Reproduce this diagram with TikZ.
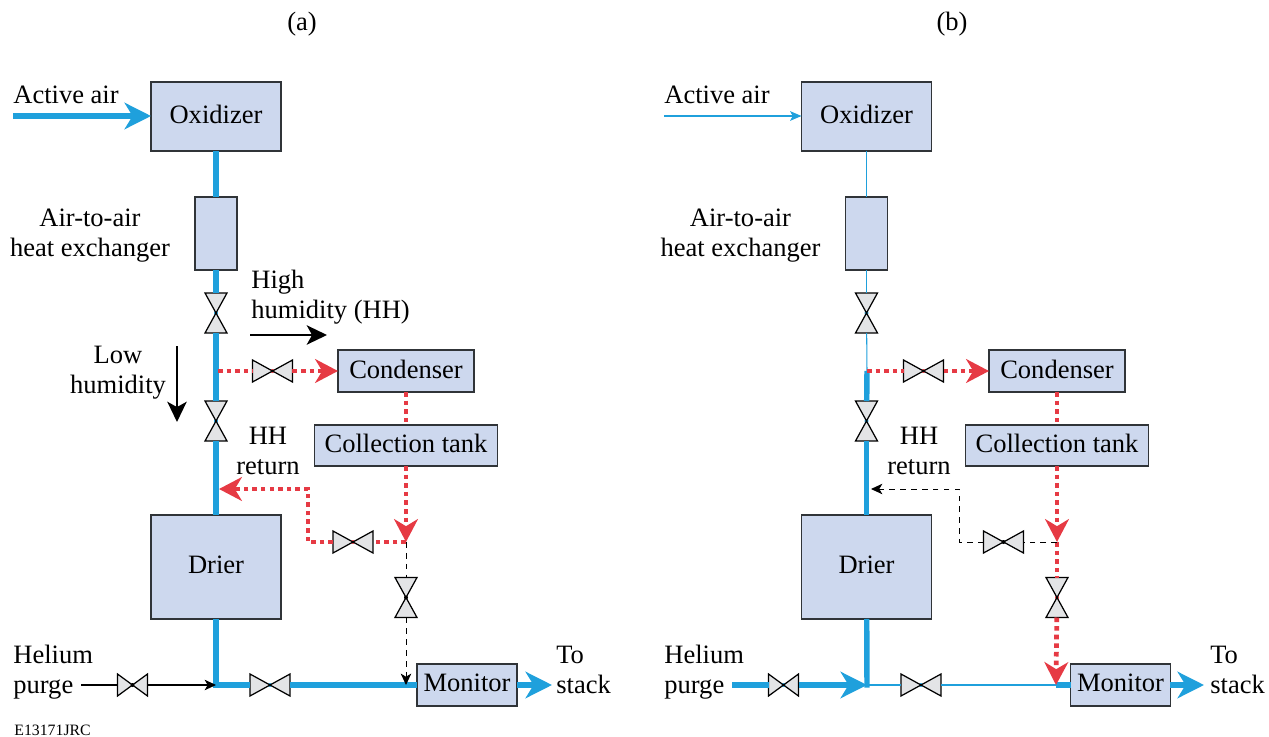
\documentclass[tikz,border=0pt]{standalone}
\usepackage{fontspec}
\setmainfont{Liberation Serif}
\usetikzlibrary{arrows.meta}
\definecolor{boxfill}{HTML}{CDD8EE}
\definecolor{boxline}{HTML}{303438}
\definecolor{valvefill}{HTML}{E3E4E6}
\definecolor{airblue}{HTML}{1FA0DC}
\definecolor{hhred}{HTML}{E63A44}
\tikzset{
  box/.style={draw=boxline,fill=boxfill,line width=0.8pt,inner sep=0pt,outer sep=0pt,text depth=2.2pt},
  valve/.style={inner sep=0pt,outer sep=0pt},
  label/.style={inner sep=0pt,align=center},
  leftlabel/.style={inner sep=0pt,align=left,anchor=west},
  thickair/.style={airblue,line width=3.1pt},
  thinair/.style={airblue,line width=0.6pt},
  hhline/.style={hhred,line width=2.7pt,dash pattern=on 2.6pt off 2.3pt},
  dashline/.style={black,line width=0.55pt,dash pattern=on 3.2pt off 3pt},
  blueflow/.style={-{Stealth[length=15pt,width=15pt,inset=4.5pt,fill=airblue]}},
  redflow/.style={-{Stealth[length=13pt,width=13.5pt,inset=4pt,fill=hhred]}},
  thinflow/.style={-{Stealth[length=6.5pt,width=6pt,inset=1.8pt]}},
  humflow/.style={line width=1.3pt,-{Stealth[length=11.5pt,width=11pt,inset=3pt]}}
}
% horizontal and vertical valves: [width] name, position, colour seen in the middle
\newcommand{\valveh}[4][0.8cm]{
  \node[valve,minimum width=#1,minimum height=0.44cm] (#2) at (#3) {};
  \fill[valvefill] (#2.north west) -- (#2.south east) -- (#2.north east) -- (#2.south west) -- cycle;
  \fill[#4] (#2.center) circle (0.04cm);
  \draw[line width=0.7pt] (#2.north west) -- (#2.south east) -- (#2.north east) -- (#2.south west) -- cycle;
}
\newcommand{\valvev}[3]{
  \node[valve,minimum width=0.44cm,minimum height=0.8cm] (#1) at (#2) {};
  \fill[valvefill] (#1.north west) -- (#1.north east) -- (#1.south west) -- (#1.south east) -- cycle;
  \fill[#3] (#1.center) circle (0.04cm);
  \draw[line width=0.7pt] (#1.north west) -- (#1.north east) -- (#1.south west) -- (#1.south east) -- cycle;
}
\begin{document}
\begin{tikzpicture}[x=0.02cm,y=-0.02cm,font=\fontsize{15.1}{17}\selectfont]
  \useasboundingbox (0,0) rectangle (1269,737);

  % panel (a)
  \node[label] (titlea) at (302,24) {(a)};
  \node[box,minimum width=2.6cm,minimum height=1.38cm] (oxa) at (216,116.5) {Oxidizer};
  \node[box,minimum width=0.84cm,minimum height=1.46cm] (hxa) at (216,233.5) {};
  \node[box,minimum width=2.72cm,minimum height=0.84cm] (cona) at (406,371) {Condenser};
  \node[box,minimum width=3.66cm,minimum height=0.82cm] (taa) at (406,445.5) {Collection tank};
  \node[box,minimum width=2.6cm,minimum height=2.08cm] (dra) at (216,567) {Drier};
  \node[box,minimum width=2cm,minimum height=0.84cm] (moa) at (467,685) {Monitor};
  \valvev{va1}{216,313}{airblue}
  \valvev{va2}{216,421}{airblue}
  \valvev{va3}{406,597.5}{black}
  \valveh{vha1}{272.5,371}{hhred}
  \valveh{vha2}{353,542}{hhred}
  \valveh{vha3}{270,685}{airblue}
  \valveh[0.6cm]{vha4}{132.5,685}{black}
  \coordinate (inaira) at (13,116);
  \coordinate (taphha) at (218,371);
  \coordinate (joina) at (216,685);
  \coordinate (spla) at (406,542);
  \coordinate (retaa) at (308,542);
  \coordinate (retba) at (308,489);
  \coordinate (retca) at (219,489);
  \coordinate (stacka) at (552,685);
  \coordinate (hea) at (81,685);
  \coordinate (motopa) at (406,685);
  \draw[thickair,blueflow] (inaira) -- (oxa.west |- inaira);
  \draw[thickair] (oxa) -- (hxa);
  \draw[thickair] (hxa) -- (va1);
  \draw[thickair] (va1) -- (va2);
  \draw[thickair] (va2) -- (dra);
  \draw[thickair] (dra) -- (joina) -- (vha3);
  \draw[thickair] (vha3) -- (moa);
  \draw[thickair,blueflow] (moa) -- (stacka);
  \draw[hhline] (taphha) -- (vha1);
  \draw[hhline,redflow] (vha1) -- (cona);
  \draw[hhline] (cona) -- (taa);
  \draw[hhline,redflow] (taa) -- (spla);
  \draw[hhline] (spla) -- (vha2);
  \draw[hhline,redflow] (vha2) -- (retaa) -- (retba) -- (retca);
  \draw[dashline] (spla) -- (va3);
  \draw[dashline,thinflow] (va3) -- (motopa);
  \draw[line width=0.6pt] (hea) -- (vha4);
  \draw[line width=0.6pt,thinflow] (vha4) -- (joina);
  \coordinate (higha) at (250,335);
  \coordinate (highb) at (327,335);
  \coordinate (lowa) at (177,346);
  \coordinate (lowb) at (177,422);
  \draw[humflow] (higha) -- (highb);
  \draw[humflow] (lowa) -- (lowb);
  \node[leftlabel] (acta) at (13,95) {Active air};
  \node[label] (xla) at (90,235.5) {Air-to-air\\heat exchanger};
  \node[leftlabel] (hila) at (251,297) {High\\humidity (HH)};
  \node[label] (lola) at (118,372.5) {Low\\humidity};
  \node[label] (hhla) at (268,451) {HH\\return};
  \node[leftlabel] (hela) at (13,672) {Helium\\purge};
  \node[leftlabel] (tola) at (556,670) {To\\stack};
  \node[leftlabel,font=\fontsize{9}{10}\selectfont] (code) at (14,730) {E13171JRC};

  % panel (b)
  \node[label] (titleb) at (952,24) {(b)};
  \node[box,minimum width=2.6cm,minimum height=1.38cm] (oxb) at (866.5,116.5) {Oxidizer};
  \node[box,minimum width=0.84cm,minimum height=1.46cm] (hxb) at (866.5,233.5) {};
  \node[box,minimum width=2.72cm,minimum height=0.84cm] (conb) at (1057,371) {Condenser};
  \node[box,minimum width=3.66cm,minimum height=0.82cm] (tab) at (1057,445.5) {Collection tank};
  \node[box,minimum width=2.6cm,minimum height=2.08cm] (drb) at (866.5,567) {Drier};
  \node[box,minimum width=2cm,minimum height=0.84cm] (mob) at (1120.5,685) {Monitor};
  \valvev{vb1}{866.5,313}{airblue}
  \valvev{vb2}{866.5,421}{airblue}
  \valvev{vb3}{1057,597.5}{hhred}
  \valveh{vhb1}{923.5,371}{hhred}
  \valveh{vhb2}{1003.5,542}{black}
  \valveh{vhb3}{921,685}{airblue}
  \valveh[0.6cm]{vhb4}{783.5,685}{airblue}
  \coordinate (inairb) at (664,116);
  \coordinate (taphhb) at (867,371);
  \coordinate (joinb) at (867,685);
  \coordinate (splb) at (1057,542);
  \coordinate (retab) at (959,542);
  \coordinate (retbb) at (959,489);
  \coordinate (retcb) at (871,489);
  \coordinate (stackb) at (1204,685);
  \coordinate (heb) at (732,685);
  \coordinate (motopb) at (1056,685);
  \draw[thinair,-{Stealth[length=6.5pt,width=5.5pt,inset=1.5pt]}] (inairb) -- (oxb.west |- inairb);
  \draw[thinair] (oxb) -- (hxb);
  \draw[thinair] (hxb) -- (vb1);
  \draw[thinair] (vb1) -- (taphhb);
  \draw[thickair] (taphhb) -- (vb2);
  \draw[thickair] (vb2) -- (drb);
  \draw[thickair,shorten >=-1.5pt] (drb) -- (joinb);
  \draw[thickair] (heb) -- (vhb4);
  \draw[thickair,blueflow] (vhb4) -- (joinb);
  \draw[thinair] (joinb) -- (vhb3);
  \draw[thinair] (vhb3) -- (motopb);
  \draw[thickair] (motopb) -- (mob);
  \draw[thickair,blueflow] (mob) -- (stackb);
  \draw[hhline] (taphhb) -- (vhb1);
  \draw[hhline,redflow] (vhb1) -- (conb);
  \draw[hhline] (conb) -- (tab);
  \draw[hhline,redflow] (tab) -- (splb);
  \draw[hhline] (splb) -- (vb3);
  \draw[hhline,redflow] (vb3) -- (motopb);
  \draw[dashline] (splb) -- (vhb2);
  \draw[dashline,thinflow] (vhb2) -- (retab) -- (retbb) -- (retcb);
  \node[leftlabel] (actb) at (664,95) {Active air};
  \node[label] (xlb) at (740.5,235.5) {Air-to-air\\heat exchanger};
  \node[label] (hhlb) at (919,451) {HH\\return};
  \node[leftlabel] (helb) at (664,672) {Helium\\purge};
  \node[leftlabel] (tolb) at (1210,670) {To\\stack};
\end{tikzpicture}
\end{document}
